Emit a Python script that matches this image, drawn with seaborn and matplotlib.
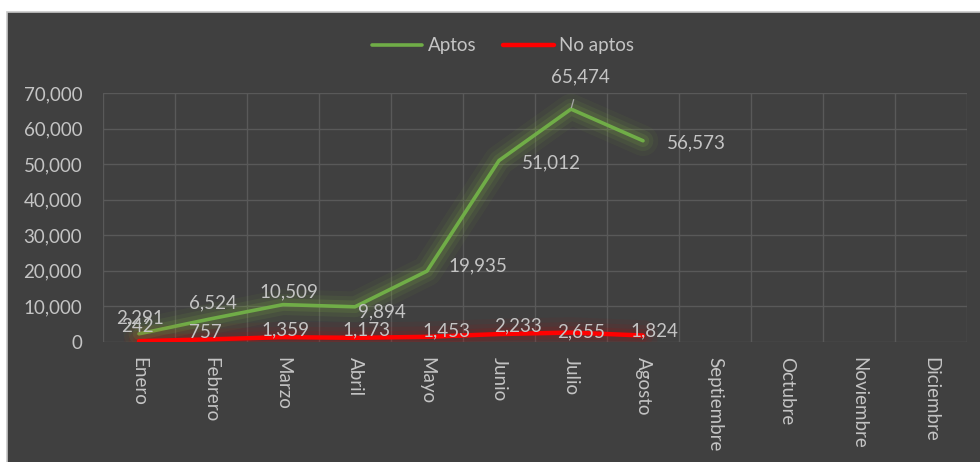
import numpy as np
import pandas as pd
import seaborn as sns
import matplotlib.pyplot as plt
import matplotlib.patheffects as pe
from matplotlib.patches import Rectangle
from matplotlib.lines import Line2D
from matplotlib.ticker import FuncFormatter, FixedLocator


# datos del grafico
meses = ['Enero', 'Febrero', 'Marzo', 'Abril', 'Mayo', 'Junio', 'Julio',
         'Agosto', 'Septiembre', 'Octubre', 'Noviembre', 'Diciembre']
aptos = [2291, 6524, 10509, 9894, 19935, 51012, 65474, 56573]
no_aptos = [242, 757, 1359, 1173, 1453, 2233, 2655, 1824]
y_ticks = [0, 10000, 20000, 30000, 40000, 50000, 60000, 70000]

# desplazamiento de etiquetas (pixeles) y alineacion
off_aptos = [(1, 16, 'center'), (2, 16, 'center'), (6, 13, 'center'), (3, -5, 'left'),
             (21, 5, 'left'), (23, -2, 'left'), (9, 32, 'center'), (24, -2, 'left')]
off_no = [(-2, 15), (-6, 7), (2, 7), (11, 8), (19, 6), (19, 8), (10, 1), (11, 5)]

BG = '#404040'
GRID = '#595959'
TXT = '#C4C4C4'
VERDE = '#70AD47'
ROJO = '#FF0000'

sns.set_theme(style='dark')
plt.rcParams['font.family'] = ['Lato', 'DejaVu Sans']

df = pd.DataFrame({
    'mes': list(range(len(aptos))) * 2,
    'valor': aptos + no_aptos,
    'serie': ['Aptos'] * len(aptos) + ['No aptos'] * len(no_aptos),
})

fig = plt.figure(figsize=(9.8, 4.62), dpi=100)
fig.patch.set_facecolor('white')
panel = Rectangle((7 / 980, -0.1), 1.1, 1 - 12 / 462 + 0.1,
                  transform=fig.transFigure, facecolor=BG,
                  edgecolor='#C8C8C8', linewidth=1.2, zorder=-10)
fig.add_artist(panel)

ax = fig.add_axes([103 / 980, 120 / 462, 864 / 980, 249 / 462])
ax.set_facecolor(BG)

sns.lineplot(data=df, x='mes', y='valor', hue='serie',
             palette={'Aptos': VERDE, 'No aptos': ROJO}, ax=ax,
             legend=False, sort=False)

glow = {'Aptos': ('#8DC63F', 2.6), 'No aptos': ('#C00000', 3.2)}
for line, nombre in zip(ax.lines, ['Aptos', 'No aptos']):
    col, lw = glow[nombre]
    line.set_linewidth(lw)
    line.set_solid_capstyle('round')
    line.set_path_effects([
        pe.Stroke(linewidth=22, foreground=col, alpha=0.05),
        pe.Stroke(linewidth=15, foreground=col, alpha=0.08),
        pe.Stroke(linewidth=9, foreground=col, alpha=0.12),
        pe.Normal(),
    ])

ax.set_xlim(-0.5, len(meses) - 0.5)
ax.set_ylim(0, 70000)
ax.set_xticks(range(len(meses)))
ax.set_xticklabels(meses, rotation=-90, va='top', ha='center')
ax.xaxis.set_minor_locator(FixedLocator(np.arange(-0.5, len(meses), 1)))
ax.set_yticks(y_ticks)
ax.yaxis.set_major_formatter(FuncFormatter(lambda v, p: f'{int(v):,}'))
ax.tick_params(axis='x', which='major', length=0, pad=11, labelsize=13.5, colors=TXT)
ax.tick_params(axis='y', length=0, pad=15, labelsize=13.5, colors=TXT)
ax.tick_params(axis='x', which='minor', length=0)
ax.grid(False)
ax.grid(True, axis='y', which='major', color=GRID, linewidth=1)
ax.grid(True, axis='x', which='minor', color=GRID, linewidth=1)
ax.set_axisbelow(True)
for s in ax.spines.values():
    s.set_visible(False)
ax.set_xlabel('')
ax.set_ylabel('')

# etiquetas de datos
for i, v in enumerate(aptos):
    dx, dy, ha = off_aptos[i]
    kw = {}
    if meses[i] == 'Julio':
        kw['arrowprops'] = dict(arrowstyle='-', color='#A6A6A6', lw=0.9,
                                shrinkA=8, shrinkB=1)
    ax.annotate(f'{v:,}', (i, v), xytext=(dx, dy), textcoords='offset pixels',
                ha=ha, va='center', fontsize=13.5, color=TXT, zorder=5, **kw)
for i, v in enumerate(no_aptos):
    dx, dy = off_no[i]
    ax.annotate(f'{v:,}', (i, v), xytext=(dx, dy), textcoords='offset pixels',
                ha='center', va='center', fontsize=13.5, color=TXT, zorder=5)

# leyenda
handles = [Line2D([], [], color=VERDE, lw=2.6, solid_capstyle='round'),
           Line2D([], [], color=ROJO, lw=3.2, solid_capstyle='round')]
fig.legend(handles, ['Aptos', 'No aptos'], loc='center', ncol=2,
           bbox_to_anchor=(503 / 980, 1 - 46 / 462), frameon=False,
           fontsize=13.5, labelcolor=TXT, handlelength=2.7, handletextpad=0.3,
           columnspacing=1.4)

fig.savefig('out.png', dpi=100, facecolor=fig.get_facecolor())
